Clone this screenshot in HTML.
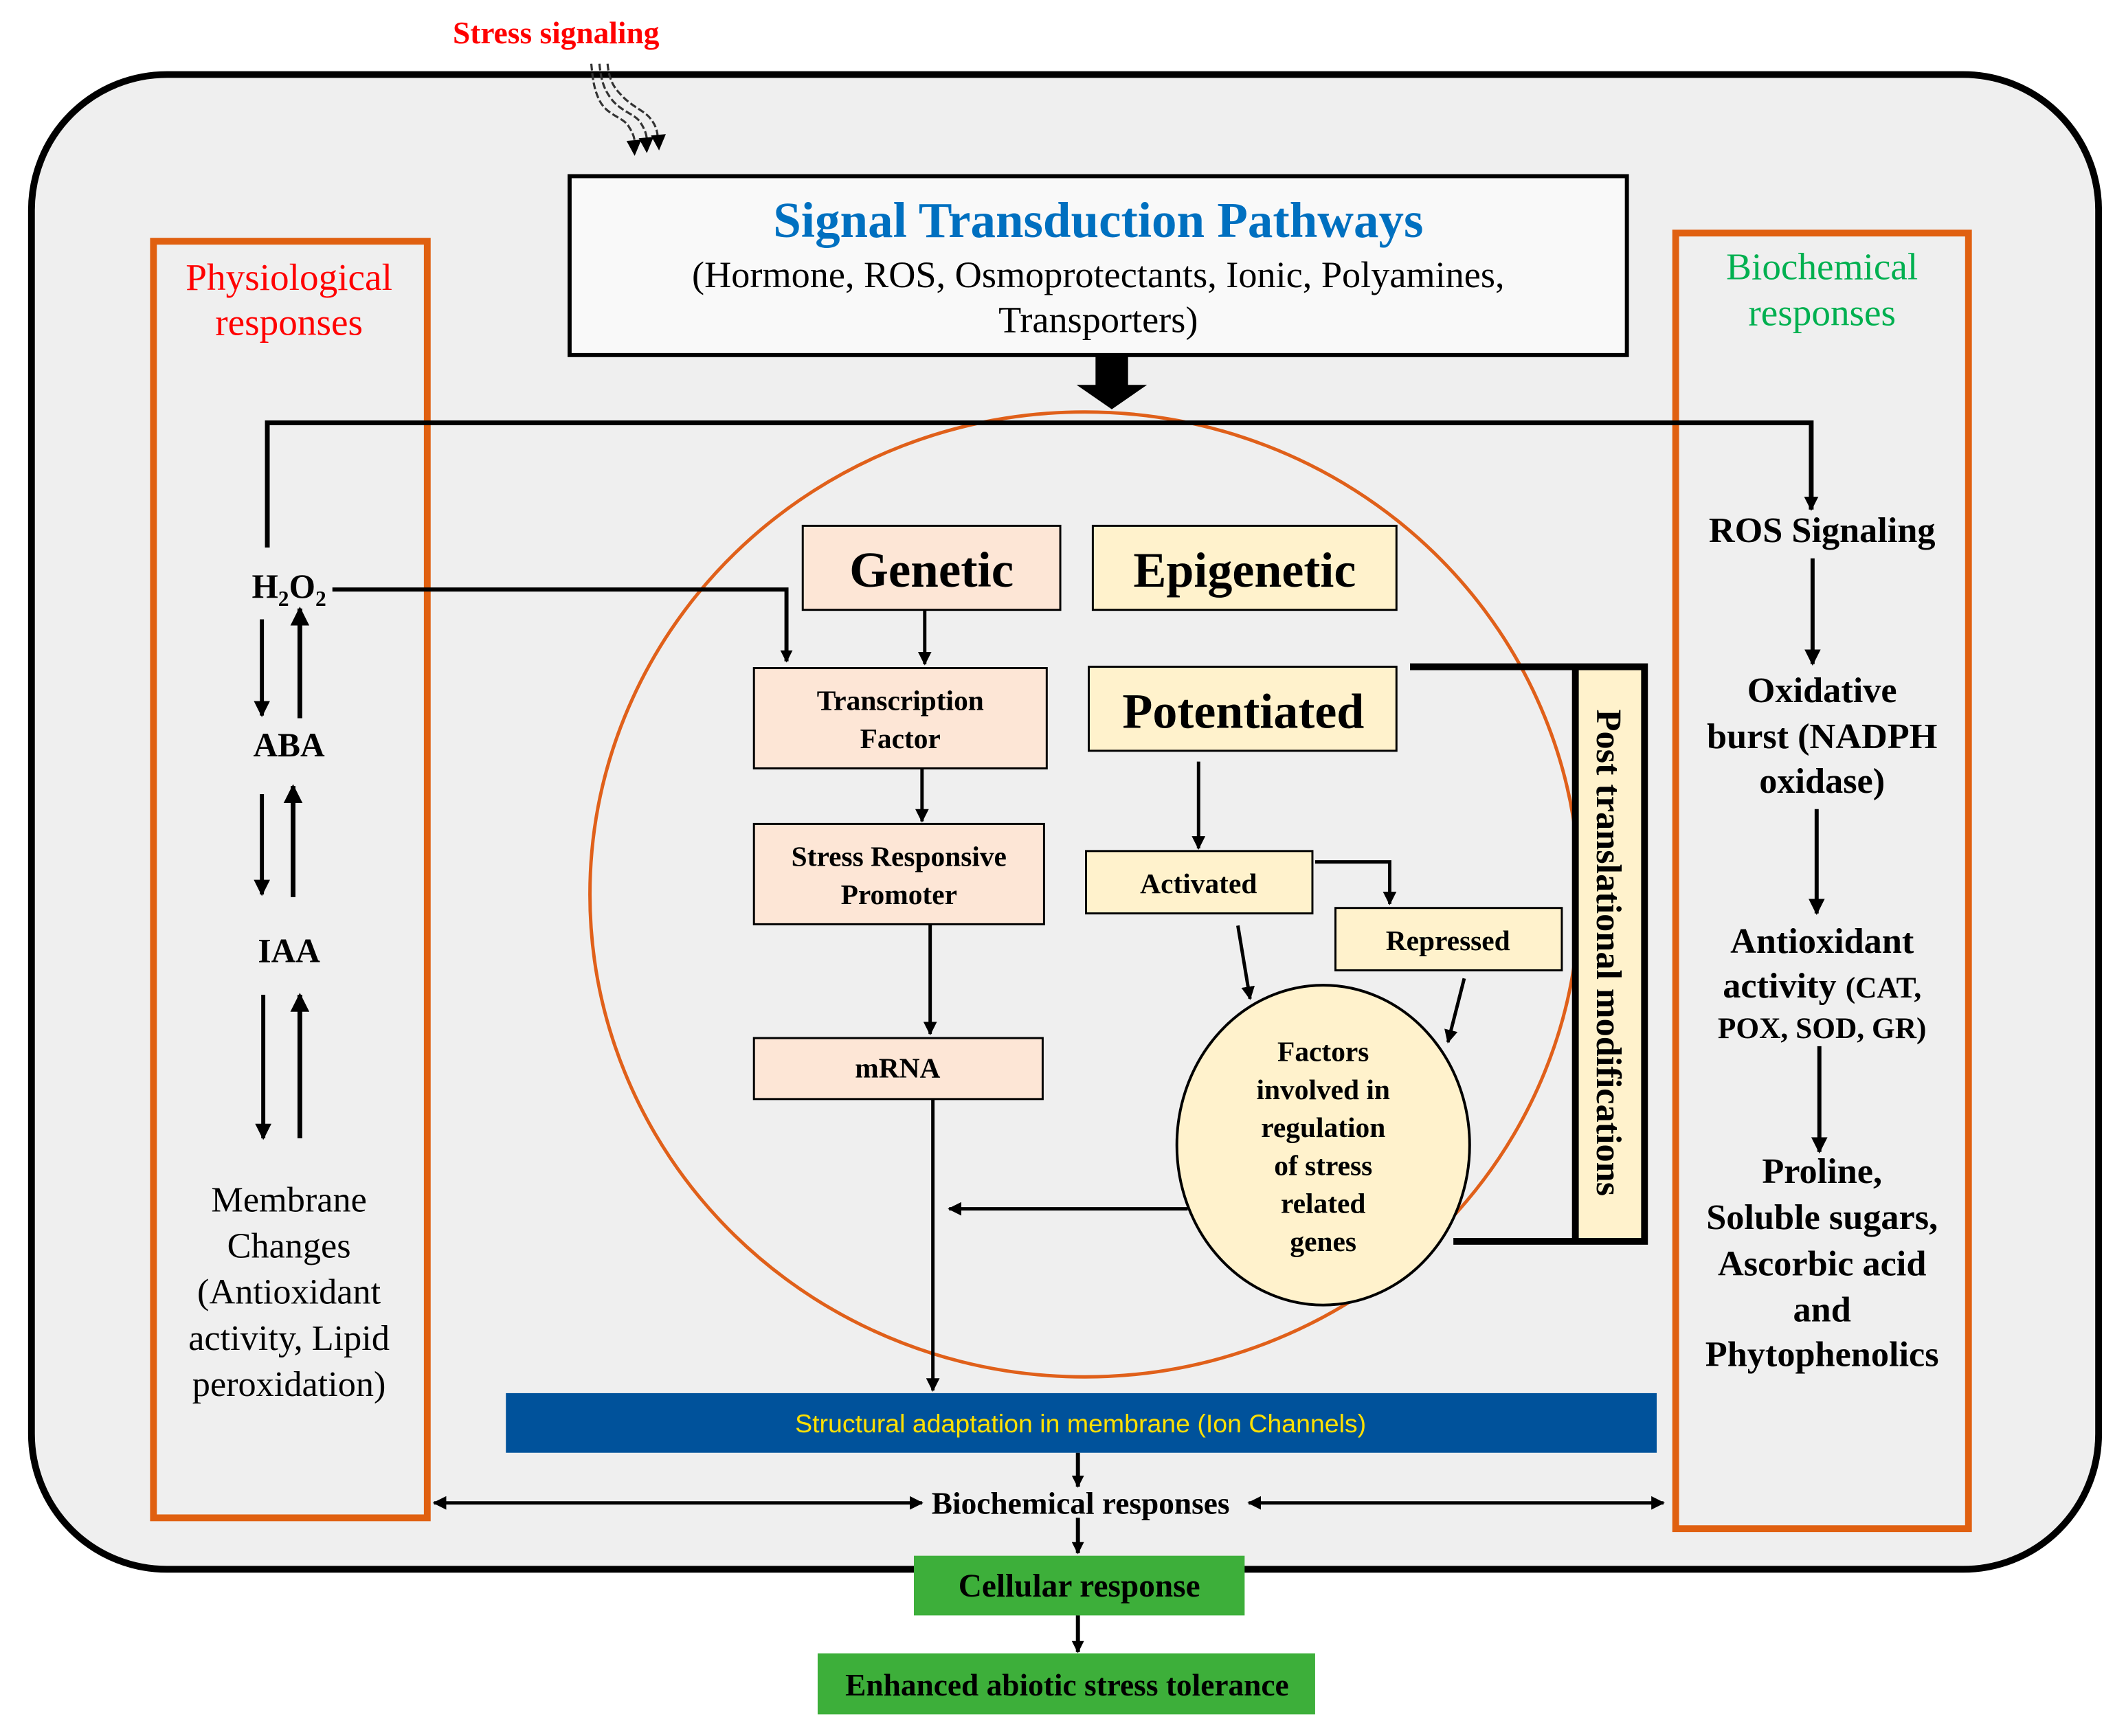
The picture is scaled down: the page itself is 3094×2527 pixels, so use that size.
<!DOCTYPE html>
<html><head><meta charset="utf-8"><style>
html,body{margin:0;padding:0;background:#fff;}
svg{display:block;}
text{font-family:"Liberation Serif",serif;}
.b{font-weight:bold;}
</style></head><body>
<svg width="3094" height="2527" viewBox="0 0 1568 1281" xmlns="http://www.w3.org/2000/svg">
<defs>
<marker id="ah" viewBox="0 0 10 10" refX="9" refY="5" markerWidth="4" markerHeight="4" orient="auto-start-reverse" markerUnits="strokeWidth"><path d="M0,0 L10,5 L0,10 z" fill="#000"/></marker>
<marker id="ah2" viewBox="0 0 10 10" refX="9" refY="5" markerWidth="3" markerHeight="3" orient="auto-start-reverse" markerUnits="strokeWidth"><path d="M0,0 L10,5 L0,10 z" fill="#000"/></marker>
</defs>
<rect x="0" y="0" width="1568" height="1281" fill="#fff"/>
<rect x="23" y="55" width="1525" height="1103" rx="100" ry="100" fill="#efefef" stroke="#000" stroke-width="5"/>
<text x="410" y="32" text-anchor="middle" class="b" font-size="23" fill="#ff0000">Stress signaling</text>
<g fill="none" stroke="#333" stroke-width="1.6" stroke-dasharray="5,2">
<path d="M436,47 C437,58 438,66 442,74 C448,86 460,86 464,94 C468,100 468,104 468,106"/>
<path d="M442,47 C443,58 445,65 450,72 C457,82 468,84 472,90 C476,96 477,100 477,104"/>
<path d="M448,47 C449,58 452,64 458,70 C466,79 476,82 480,88 C484,93 485,98 485,102"/>
</g>
<path d="M462,104 L473,103 L468,115 z M471,102 L482,101 L477,113 z M480,100 L491,99 L486,111 z" fill="#000"/>

<rect x="420" y="130" width="780" height="132" fill="#f9f9f9" stroke="#000" stroke-width="3"/>
<text x="810" y="175" text-anchor="middle" class="b" font-size="37" fill="#0070c0">Signal Transduction Pathways</text>
<text x="810" y="212" text-anchor="middle" font-size="27.5">(Hormone, ROS, Osmoprotectants, Ionic, Polyamines,</text>
<text x="810" y="245" text-anchor="middle" font-size="27.5">Transporters)</text>
<path d="M808,262 H832 V284 H846 L820,302 L794,284 H808 z" fill="#000"/>

<ellipse cx="800" cy="660" rx="365" ry="356" fill="none" stroke="#e0601a" stroke-width="2.5"/>

<rect x="113" y="178" width="202" height="942" fill="none" stroke="#e06010" stroke-width="5"/>
<text x="213" y="214" text-anchor="middle" font-size="28" fill="#ff0000">Physiological</text>
<text x="213" y="247" text-anchor="middle" font-size="28" fill="#ff0000">responses</text>
<rect x="1236" y="172" width="216" height="956" fill="none" stroke="#e06010" stroke-width="5"/>
<text x="1344" y="206" text-anchor="middle" font-size="28" fill="#00b050">Biochemical</text>
<text x="1344" y="240" text-anchor="middle" font-size="28" fill="#00b050">responses</text>

<g stroke="#000" fill="none">
<path d="M197,404 V312 H1336 V376" stroke-width="3.5" marker-end="url(#ah2)"/>
<path d="M245,435 H580 V488" stroke-width="3" marker-end="url(#ah2)"/>
<path d="M193,457 V528" stroke-width="3" marker-end="url(#ah)"/>
<path d="M221,530 V449" stroke-width="3.5" marker-end="url(#ah)"/>
<path d="M193,586 V660" stroke-width="3" marker-end="url(#ah)"/>
<path d="M216,662 V580" stroke-width="3.5" marker-end="url(#ah)"/>
<path d="M194,734 V840" stroke-width="3" marker-end="url(#ah)"/>
<path d="M221,840 V734" stroke-width="3.5" marker-end="url(#ah)"/>
</g>
<text x="213" y="441" text-anchor="middle" class="b" font-size="25">H<tspan font-size="16" dy="6">2</tspan><tspan dy="-6">O</tspan><tspan font-size="16" dy="6">2</tspan></text>
<text x="213" y="558" text-anchor="middle" class="b" font-size="25">ABA</text>
<text x="213" y="710" text-anchor="middle" class="b" font-size="25">IAA</text>
<g font-size="26.5" text-anchor="middle">
<text x="213" y="894">Membrane</text>
<text x="213" y="928">Changes</text>
<text x="213" y="962">(Antioxidant</text>
<text x="213" y="996">activity, Lipid</text>
<text x="213" y="1030">peroxidation)</text>
</g>

<g stroke="#000" stroke-width="1.5">
<rect x="592" y="388" width="190" height="62" fill="#fde6d6"/>
<rect x="556" y="493" width="216" height="74" fill="#fde6d6"/>
<rect x="556" y="608" width="214" height="74" fill="#fde6d6"/>
<rect x="556" y="766" width="213" height="45" fill="#fde6d6"/>
<rect x="806" y="388" width="224" height="62" fill="#fff2cc"/>
<rect x="803" y="492" width="227" height="62" fill="#fff2cc"/>
<rect x="801" y="628" width="167" height="46" fill="#fff2cc"/>
<rect x="985" y="670" width="167" height="46" fill="#fff2cc"/>
<ellipse cx="976" cy="845" rx="108" ry="118" fill="#fff2cc" stroke-width="2"/>
</g>
<text x="687" y="433" text-anchor="middle" class="b" font-size="37">Genetic</text>
<text x="918" y="433" text-anchor="middle" class="b" font-size="36.5">Epigenetic</text>
<text x="917" y="537" text-anchor="middle" class="b" font-size="36.5">Potentiated</text>
<g class="b" font-size="21" text-anchor="middle" font-weight="bold">
<text x="664" y="524">Transcription</text>
<text x="664" y="552">Factor</text>
<text x="663" y="639">Stress Responsive</text>
<text x="663" y="667">Promoter</text>
<text x="662" y="795">mRNA</text>
<text x="884" y="659">Activated</text>
<text x="1068" y="701">Repressed</text>
<text x="976" y="783">Factors</text>
<text x="976" y="811">involved in</text>
<text x="976" y="839">regulation</text>
<text x="976" y="867">of stress</text>
<text x="976" y="895">related</text>
<text x="976" y="923">genes</text>
</g>
<g stroke="#000" fill="none" stroke-width="2.5">
<path d="M682,450 V490" marker-end="url(#ah)"/>
<path d="M680,567 V606" marker-end="url(#ah)"/>
<path d="M686,682 V763" marker-end="url(#ah)"/>
<path d="M688,811 V1026" marker-end="url(#ah)"/>
<path d="M884,562 V626" marker-end="url(#ah)"/>
<path d="M970,636 H1025 V667" marker-end="url(#ah)"/>
<path d="M913,683 L922,737" marker-end="url(#ah)"/>
<path d="M1080,722 L1068,769" marker-end="url(#ah)"/>
<path d="M876,892 H700" marker-end="url(#ah)"/>
</g>
<rect x="1162" y="490" width="51" height="426" fill="#fff2cc"/>
<path d="M1040,492 H1213 V916 H1072" fill="none" stroke="#000" stroke-width="5"/>
<path d="M1162,492 V916" stroke="#000" stroke-width="5"/>
<text transform="translate(1178,703) rotate(90)" text-anchor="middle" class="b" font-size="26.5">Post translational modifications</text>

<rect x="373" y="1028" width="849" height="44" fill="#00529b"/>
<text x="797" y="1057" text-anchor="middle" style="font-family:'Liberation Sans',sans-serif" font-size="19" fill="#ffe000">Structural adaptation in membrane (Ion Channels)</text>
<g stroke="#000" fill="none" stroke-width="3">
<path d="M795,1072 V1097" marker-end="url(#ah2)"/>
<path d="M795,1120 V1146" marker-end="url(#ah2)"/>
<path d="M795,1192 V1219" marker-end="url(#ah2)"/>
<path d="M320,1109 H680" stroke-width="2.5" marker-start="url(#ah)" marker-end="url(#ah)"/>
<path d="M921,1109 H1227" stroke-width="2.5" marker-start="url(#ah)" marker-end="url(#ah)"/>
</g>
<text x="797" y="1117" text-anchor="middle" class="b" font-size="23">Biochemical responses</text>
<rect x="674" y="1148" width="244" height="44" fill="#3daf3a"/>
<text x="796" y="1178" text-anchor="middle" class="b" font-size="24">Cellular response</text>
<rect x="603" y="1220" width="367" height="45" fill="#3daf3a"/>
<text x="787" y="1251" text-anchor="middle" class="b" font-size="23">Enhanced abiotic stress tolerance</text>

<g class="b" font-size="26.5" text-anchor="middle" font-weight="bold">
<text x="1344" y="400">ROS Signaling</text>
<text x="1344" y="518">Oxidative</text>
<text x="1344" y="552">burst (NADPH</text>
<text x="1344" y="585">oxidase)</text>
<text x="1344" y="703">Antioxidant</text>
<text x="1344" y="736">activity <tspan font-size="22">(CAT,</tspan></text>
<text x="1344" y="766" font-size="22">POX, SOD, GR)</text>
<text x="1344" y="873">Proline,</text>
<text x="1344" y="907">Soluble sugars,</text>
<text x="1344" y="941">Ascorbic acid</text>
<text x="1344" y="975">and</text>
<text x="1344" y="1008">Phytophenolics</text>
</g>
<g stroke="#000" fill="none" stroke-width="3">
<path d="M1337,412 V490" marker-end="url(#ah)"/>
<path d="M1340,597 V674" marker-end="url(#ah)"/>
<path d="M1342,772 V850" marker-end="url(#ah)"/>
</g>
</svg>
</body></html>
